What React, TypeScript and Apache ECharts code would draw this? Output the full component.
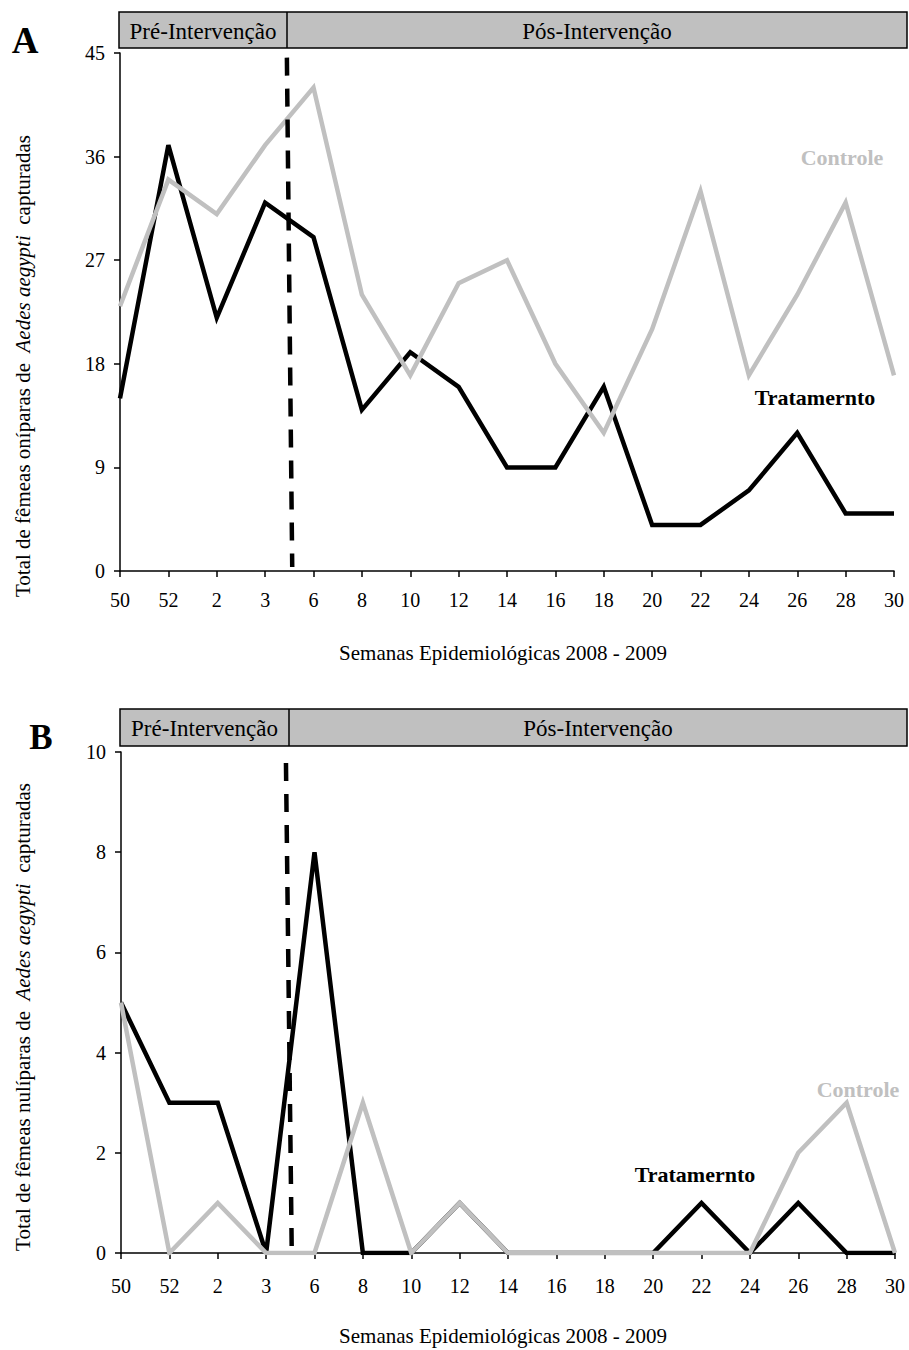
import React, { useEffect, useRef } from "react";
import * as echarts from "echarts";

// Epidemiological weeks (2008 - 2009)
const weeks = ["50", "52", "2", "3", "6", "8", "10", "12", "14", "16", "18", "20", "22", "24", "26", "28", "30"];

// Panel A: parous females captured
const controlA = [23, 34, 31, 37, 42, 24, 17, 25, 27, 18, 12, 21, 33, 17, 24, 32, 17];
const treatA = [15, 37, 22, 32, 29, 14, 19, 16, 9, 9, 16, 4, 4, 7, 12, 5, 5];

// Panel B: nulliparous females captured
const controlB = [5, 0, 1, 0, 0, 3, 0, 1, 0, 0, 0, 0, 0, 0, 2, 3, 0];
const treatB = [5, 3, 3, 0, 8, 0, 0, 1, 0, 0, 0, 0, 1, 0, 1, 0, 0];

// Intervention marker (between weeks 3 and 6), drawn slightly slanted
const interventionA = [[3.45, 44.6], [3.56, 0.35]];
const interventionB = [[3.41, 9.78], [3.53, 0.0]];

const SERIF = "'Liberation Serif', 'Times New Roman', serif";
const GRAY = "#c0c0c0";

function xAxisCfg(gridIndex: number, margin: number) {
  return {
    gridIndex,
    type: "value",
    min: 0,
    max: weeks.length - 1,
    interval: 1,
    axisLine: { lineStyle: { color: "#000", width: 1.5 } },
    axisTick: { length: 6, lineStyle: { color: "#000", width: 1.5 } },
    splitLine: { show: false },
    axisLabel: {
      formatter: (v: number) => weeks[Math.round(v)] ?? "",
      fontFamily: SERIF,
      fontSize: 20,
      color: "#000",
      margin,
    },
  };
}

function yAxisCfg(gridIndex: number, max: number, interval: number) {
  return {
    gridIndex,
    type: "value",
    min: 0,
    max,
    interval,
    axisLine: { show: true, lineStyle: { color: "#000", width: 1.5 } },
    axisTick: { show: true, length: 6, lineStyle: { color: "#000", width: 1.5 } },
    splitLine: { show: false },
    axisLabel: { fontFamily: SERIF, fontSize: 20, color: "#000", margin: 15 },
  };
}

function lineSeries(idx: number, values: number[], color: string, z: number) {
  return {
    type: "line",
    xAxisIndex: idx,
    yAxisIndex: idx,
    data: values.map((v, i) => [i, v]),
    symbol: "none",
    z,
    lineStyle: { color, width: 4.5, join: "miter", cap: "butt" },
  };
}

function dashedSeries(idx: number, pts: number[][]) {
  return {
    type: "line",
    xAxisIndex: idx,
    yAxisIndex: idx,
    data: pts,
    symbol: "none",
    z: 6,
    lineStyle: { color: "#000", width: 4.5, type: [18, 13], cap: "butt" },
  };
}

function header(y: number, h: number, left: number, split: number, right: number) {
  return [
    {
      type: "rect",
      shape: { x: left, y, width: right - left, height: h },
      style: { fill: GRAY, stroke: "#000", lineWidth: 1.5 },
    },
    {
      type: "line",
      shape: { x1: split, y1: y, x2: split, y2: y + h },
      style: { stroke: "#000", lineWidth: 1.5 },
    },
    {
      type: "text",
      x: (left + split) / 2,
      y: y + h / 2 + 1,
      style: { text: "Pré-Intervenção", font: `23px ${SERIF}`, fill: "#000", align: "center", verticalAlign: "middle" },
    },
    {
      type: "text",
      x: (split + right) / 2,
      y: y + h / 2 + 1,
      style: { text: "Pós-Intervenção", font: `23px ${SERIF}`, fill: "#000", align: "center", verticalAlign: "middle" },
    },
  ];
}

function yTitle(x: number, y: number, kind: string) {
  return {
    type: "text",
    x,
    y,
    rotation: Math.PI / 2,
    style: {
      text: `{n|Total de fêmeas ${kind} de  }{i|Aedes aegypti}{n|  capturadas}`,
      align: "center",
      verticalAlign: "middle",
      rich: {
        n: { fontFamily: SERIF, fontSize: 21, fill: "#000" },
        i: { fontFamily: SERIF, fontSize: 21, fontStyle: "italic", fill: "#000" },
      },
    },
  };
}

function plainText(x: number, y: number, text: string, size: number, color: string, bold: boolean, align = "center") {
  return {
    type: "text",
    x,
    y,
    style: {
      text,
      font: `${bold ? "bold " : ""}${size}px ${SERIF}`,
      fill: color,
      align,
      verticalAlign: "middle",
    },
  };
}

export default function App() {
  const ref = useRef<HTMLDivElement>(null);

  useEffect(() => {
    document.body.style.margin = "0";
    if (!ref.current) return;
    const chart = echarts.init(ref.current, null, { renderer: "svg" });
    chart.setOption({
      animation: false,
      backgroundColor: "#fff",
      grid: [
        { left: 120, top: 53, width: 774, height: 518 },
        { left: 121, top: 752, width: 774, height: 501 },
      ],
      xAxis: [xAxisCfg(0, 19), xAxisCfg(1, 23)],
      yAxis: [yAxisCfg(0, 45, 9), yAxisCfg(1, 10, 2)],
      series: [
        lineSeries(0, treatA, "#000", 3),
        lineSeries(0, controlA, GRAY, 4),
        dashedSeries(0, interventionA),
        lineSeries(1, treatB, "#000", 3),
        lineSeries(1, controlB, GRAY, 4),
        dashedSeries(1, interventionB),
      ],
      graphic: [
        ...header(12, 36, 119, 287, 907),
        ...header(709, 37, 120, 289, 907),
        plainText(25, 40, "A", 37, "#000", true),
        plainText(41, 737, "B", 35, "#000", true),
        yTitle(23, 366, "oníparas"),
        yTitle(23, 1017, "nulíparas"),
        plainText(503, 653, "Semanas Epidemiológicas 2008 - 2009", 21, "#000", false),
        plainText(503, 1336, "Semanas Epidemiológicas 2008 - 2009", 21, "#000", false),
        plainText(842, 157, "Controle", 22, GRAY, true),
        plainText(815, 397, "Tratamernto", 22, "#000", true),
        plainText(858, 1089, "Controle", 22, GRAY, true),
        plainText(695, 1174, "Tratamernto", 22, "#000", true),
      ],
    });
    return () => chart.dispose();
  }, []);

  return <div ref={ref} style={{ width: 909, height: 1350 }} />;
}
